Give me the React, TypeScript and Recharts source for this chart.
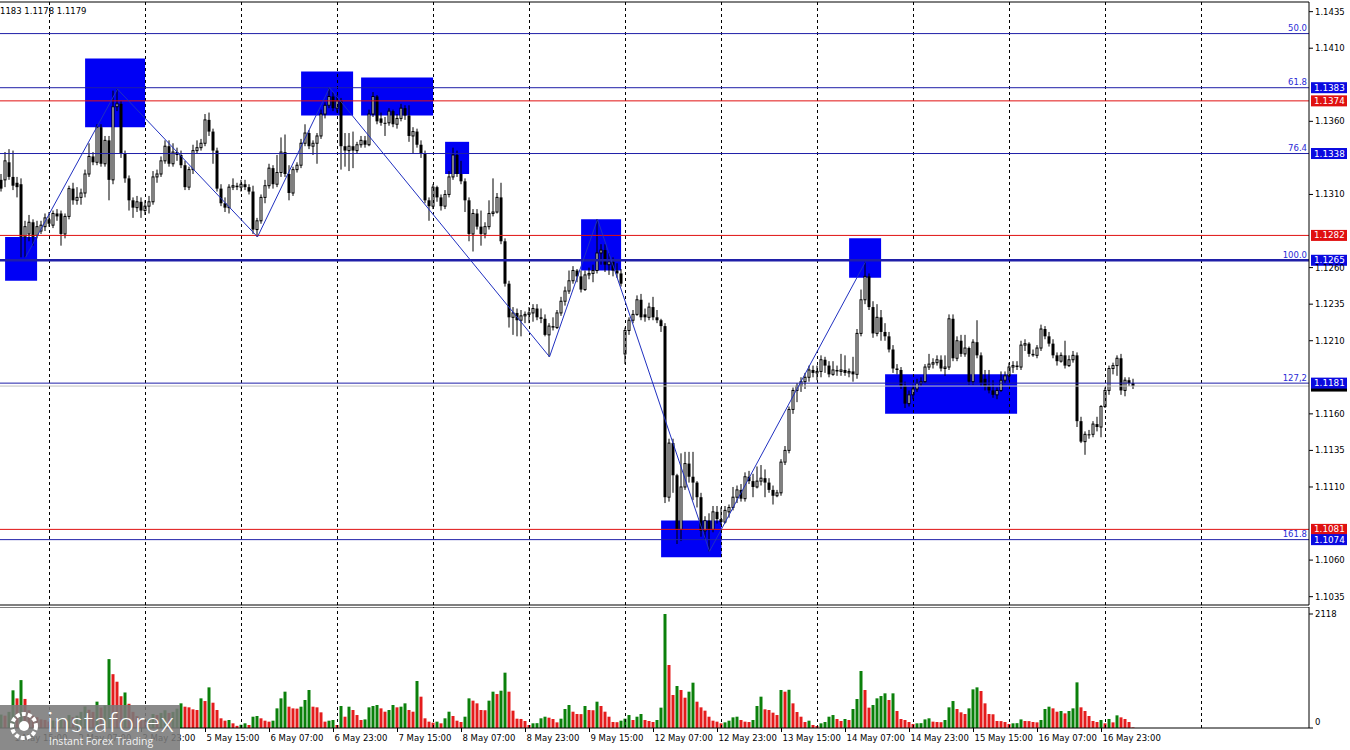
import React from 'react';
import { ComposedChart, Bar, Line, XAxis, YAxis, ReferenceLine, ReferenceArea, Cell } from 'recharts';

// ---------- DATA (EURUSD H1) ----------
const opens = [
  1.1320,1.1320,1.1332,1.1322,1.1318,1.1317,1.1281,1.1283,1.1291,1.1282,
  1.1285,1.1288,1.1293,1.1289,1.1297,1.1297,1.1283,1.1295,1.1314,1.1306,
  1.1308,1.1311,1.1324,1.1336,1.1332,1.1356,1.1331,1.1347,1.1320,1.1370,
  1.1372,1.1338,1.1321,1.1306,1.1301,1.1305,1.1299,1.1302,1.1305,1.1322,
  1.1324,1.1333,1.1343,1.1331,1.1339,1.1337,1.1330,1.1315,1.1327,1.1340,
  1.1342,1.1345,1.1361,1.1353,1.1340,1.1314,1.1304,1.1301,1.1315,1.1316,
  1.1315,1.1317,1.1315,1.1312,1.1286,1.1292,1.1308,1.1316,1.1328,1.1317,
  1.1325,1.1339,1.1324,1.1311,1.1327,1.1330,1.1345,1.1352,1.1343,1.1345,
  1.1350,1.1365,1.1371,1.1377,1.1369,1.1374,1.1343,1.1340,1.1343,1.1340,
  1.1344,1.1347,1.1344,1.1365,1.1377,1.1362,1.1359,1.1359,1.1367,1.1358,
  1.1362,1.1369,1.1364,1.1350,1.1353,1.1344,1.1338,1.1306,1.1302,1.1315,
  1.1308,1.1302,1.1310,1.1322,1.1337,1.1324,1.1319,1.1306,1.1283,1.1297,
  1.1288,1.1283,1.1288,1.1297,1.1298,1.1308,1.1278,1.1249,1.1226,1.1229,
  1.1224,1.1227,1.1228,1.1229,1.1232,1.1226,1.1225,1.1214,1.1220,1.1219,
  1.1229,1.1237,1.1244,1.1251,1.1258,1.1254,1.1245,1.1255,1.1256,1.1258,
  1.1270,1.1272,1.1262,1.1264,1.1258,1.1256,1.1201,1.1217,1.1224,1.1228,
  1.1238,1.1228,1.1226,1.1233,1.1226,1.1224,1.1220,1.1103,1.1140,1.1118,
  1.1081,1.1110,1.1126,1.1117,1.1113,1.1103,1.1080,1.1087,1.1081,1.1093,
  1.1088,1.1086,1.1093,1.1096,1.1103,1.1108,1.1102,1.1117,1.1114,1.1110,
  1.1114,1.1116,1.1113,1.1108,1.1104,1.1106,1.1127,1.1135,1.1163,1.1176,
  1.1179,1.1182,1.1185,1.1190,1.1188,1.1189,1.1197,1.1193,1.1187,1.1190,
  1.1189,1.1190,1.1188,1.1189,1.1187,1.1215,1.1238,1.1254,1.1233,1.1215,
  1.1226,1.1216,1.1213,1.1204,1.1191,1.1190,1.1179,1.1167,1.1173,1.1177,
  1.1181,1.1182,1.1192,1.1194,1.1195,1.1197,1.1191,1.1192,1.1225,1.1198,
  1.1210,1.1201,1.1205,1.1182,1.1209,1.1200,1.1184,1.1179,1.1176,1.1173,
  1.1176,1.1183,1.1186,1.1192,1.1193,1.1192,1.1207,1.1208,1.1201,1.1200,
  1.1205,1.1218,1.1213,1.1208,1.1200,1.1196,1.1200,1.1193,1.1197,1.1200,
  1.1155,1.1141,1.1146,1.1146,1.1153,1.1151,1.1165,1.1176,1.1191,1.1193,
  1.1198,1.1176,1.1183,1.1181,
];
const highs = [
  1.1324,1.1339,1.1341,1.1340,1.1322,1.1321,1.1292,1.1296,1.1293,1.1292,
  1.1292,1.1297,1.1298,1.1299,1.1300,1.1299,1.1297,1.1316,1.1318,1.1315,
  1.1314,1.1327,1.1345,1.1339,1.1358,1.1358,1.1350,1.1350,1.1381,1.1382,
  1.1374,1.1340,1.1323,1.1308,1.1309,1.1308,1.1306,1.1309,1.1326,1.1327,
  1.1336,1.1347,1.1347,1.1345,1.1342,1.1340,1.1333,1.1329,1.1344,1.1347,
  1.1348,1.1365,1.1366,1.1355,1.1342,1.1317,1.1308,1.1317,1.1321,1.1318,
  1.1320,1.1320,1.1317,1.1316,1.1294,1.1310,1.1320,1.1331,1.1330,1.1337,
  1.1349,1.1351,1.1330,1.1329,1.1332,1.1348,1.1358,1.1354,1.1347,1.1352,
  1.1368,1.1373,1.1383,1.1380,1.1378,1.1376,1.1352,1.1352,1.1353,1.1346,
  1.1350,1.1350,1.1368,1.1380,1.1378,1.1366,1.1363,1.1369,1.1368,1.1365,
  1.1372,1.1371,1.1371,1.1356,1.1355,1.1347,1.1340,1.1308,1.1317,1.1316,
  1.1310,1.1313,1.1326,1.1342,1.1340,1.1333,1.1321,1.1308,1.1300,1.1300,
  1.1299,1.1291,1.1306,1.1321,1.1311,1.1318,1.1280,1.1251,1.1233,1.1232,
  1.1231,1.1230,1.1233,1.1235,1.1235,1.1232,1.1228,1.1222,1.1226,1.1231,
  1.1240,1.1247,1.1258,1.1261,1.1259,1.1258,1.1258,1.1260,1.1262,1.1293,
  1.1276,1.1276,1.1270,1.1267,1.1263,1.1259,1.1219,1.1226,1.1231,1.1241,
  1.1242,1.1232,1.1236,1.1240,1.1231,1.1225,1.1222,1.1143,1.1143,1.1119,
  1.1133,1.1134,1.1134,1.1134,1.1114,1.1106,1.1090,1.1092,1.1097,1.1097,
  1.1096,1.1097,1.1098,1.1110,1.1111,1.1112,1.1120,1.1121,1.1119,1.1124,
  1.1125,1.1122,1.1116,1.1111,1.1108,1.1129,1.1138,1.1165,1.1178,1.1181,
  1.1185,1.1188,1.1193,1.1193,1.1193,1.1200,1.1199,1.1196,1.1196,1.1193,
  1.1201,1.1200,1.1191,1.1199,1.1218,1.1245,1.1264,1.1256,1.1237,1.1235,
  1.1231,1.1222,1.1216,1.1207,1.1194,1.1192,1.1182,1.1176,1.1180,1.1184,
  1.1185,1.1194,1.1201,1.1198,1.1200,1.1200,1.1200,1.1228,1.1228,1.1213,
  1.1214,1.1214,1.1206,1.1211,1.1224,1.1202,1.1190,1.1190,1.1183,1.1178,
  1.1189,1.1189,1.1195,1.1196,1.1196,1.1210,1.1211,1.1209,1.1204,1.1207,
  1.1221,1.1220,1.1216,1.1211,1.1202,1.1202,1.1210,1.1200,1.1203,1.1202,
  1.1158,1.1148,1.1149,1.1155,1.1158,1.1166,1.1178,1.1193,1.1195,1.1200,
  1.1201,1.1185,1.1185,1.1184,
];
const lows = [
  1.1312,1.1315,1.1320,1.1313,1.1308,1.1267,1.1267,1.1278,1.1275,1.1280,
  1.1283,1.1285,1.1288,1.1287,1.1292,1.1275,1.1280,1.1293,1.1303,1.1303,
  1.1303,1.1308,1.1322,1.1330,1.1330,1.1329,1.1329,1.1306,1.1317,1.1367,
  1.1335,1.1318,1.1299,1.1294,1.1298,1.1294,1.1296,1.1297,1.1303,1.1318,
  1.1322,1.1331,1.1329,1.1329,1.1333,1.1328,1.1313,1.1313,1.1324,1.1338,
  1.1340,1.1343,1.1350,1.1331,1.1312,1.1302,1.1298,1.1297,1.1313,1.1313,
  1.1312,1.1313,1.1310,1.1283,1.1281,1.1290,1.1304,1.1314,1.1314,1.1315,
  1.1322,1.1322,1.1306,1.1309,1.1325,1.1328,1.1343,1.1341,1.1337,1.1331,
  1.1348,1.1362,1.1369,1.1367,1.1366,1.1327,1.1329,1.1326,1.1328,1.1338,
  1.1342,1.1342,1.1343,1.1363,1.1358,1.1357,1.1350,1.1357,1.1356,1.1355,
  1.1360,1.1361,1.1346,1.1338,1.1342,1.1335,1.1304,1.1292,1.1300,1.1305,
  1.1299,1.1300,1.1308,1.1320,1.1322,1.1317,1.1298,1.1278,1.1271,1.1286,
  1.1275,1.1280,1.1286,1.1295,1.1297,1.1276,1.1247,1.1219,1.1214,1.1213,
  1.1213,1.1222,1.1222,1.1223,1.1224,1.1222,1.1213,1.1199,1.1217,1.1218,
  1.1227,1.1234,1.1242,1.1249,1.1250,1.1243,1.1244,1.1252,1.1250,1.1256,
  1.1262,1.1257,1.1255,1.1254,1.1253,1.1247,1.1194,1.1214,1.1222,1.1227,
  1.1224,1.1223,1.1224,1.1224,1.1222,1.1216,1.1099,1.1100,1.1106,1.1071,
  1.1073,1.1108,1.1113,1.1101,1.1096,1.1076,1.1074,1.1066,1.1079,1.1085,
  1.1084,1.1085,1.1089,1.1094,1.1099,1.1100,1.1100,1.1112,1.1103,1.1109,
  1.1111,1.1103,1.1106,1.1098,1.1103,1.1104,1.1125,1.1133,1.1160,1.1168,
  1.1175,1.1177,1.1182,1.1185,1.1183,1.1185,1.1188,1.1185,1.1186,1.1186,
  1.1186,1.1186,1.1185,1.1182,1.1184,1.1213,1.1235,1.1231,1.1212,1.1213,
  1.1210,1.1210,1.1202,1.1188,1.1187,1.1177,1.1164,1.1165,1.1170,1.1175,
  1.1179,1.1181,1.1190,1.1191,1.1193,1.1189,1.1186,1.1190,1.1196,1.1196,
  1.1199,1.1199,1.1180,1.1180,1.1198,1.1179,1.1176,1.1174,1.1171,1.1170,
  1.1175,1.1181,1.1183,1.1188,1.1190,1.1190,1.1203,1.1199,1.1199,1.1198,
  1.1203,1.1211,1.1206,1.1198,1.1193,1.1195,1.1191,1.1192,1.1195,1.1151,
  1.1140,1.1132,1.1143,1.1144,1.1148,1.1144,1.1164,1.1173,1.1187,1.1186,
  1.1173,1.1172,1.1179,1.1177,
];
const closes = [
  1.1314,1.1333,1.1322,1.1316,1.1315,1.1281,1.1288,1.1291,1.1281,1.1288,
  1.1289,1.1294,1.1290,1.1297,1.1295,1.1283,1.1295,1.1314,1.1306,1.1308,
  1.1311,1.1324,1.1336,1.1332,1.1356,1.1331,1.1347,1.1320,1.1370,1.1372,
  1.1338,1.1321,1.1306,1.1301,1.1305,1.1299,1.1302,1.1305,1.1322,1.1324,
  1.1333,1.1343,1.1331,1.1339,1.1337,1.1330,1.1315,1.1327,1.1340,1.1342,
  1.1345,1.1361,1.1353,1.1340,1.1314,1.1304,1.1301,1.1315,1.1316,1.1315,
  1.1317,1.1315,1.1312,1.1286,1.1292,1.1308,1.1316,1.1328,1.1317,1.1325,
  1.1339,1.1324,1.1311,1.1327,1.1330,1.1345,1.1352,1.1343,1.1345,1.1350,
  1.1365,1.1371,1.1377,1.1369,1.1374,1.1343,1.1340,1.1343,1.1340,1.1344,
  1.1347,1.1344,1.1365,1.1377,1.1360,1.1359,1.1359,1.1367,1.1358,1.1362,
  1.1369,1.1364,1.1350,1.1353,1.1344,1.1338,1.1306,1.1302,1.1315,1.1308,
  1.1302,1.1310,1.1322,1.1337,1.1324,1.1319,1.1306,1.1283,1.1297,1.1288,
  1.1283,1.1288,1.1297,1.1298,1.1308,1.1278,1.1249,1.1226,1.1229,1.1224,
  1.1227,1.1228,1.1229,1.1232,1.1226,1.1225,1.1214,1.1220,1.1219,1.1229,
  1.1237,1.1244,1.1251,1.1258,1.1254,1.1245,1.1255,1.1256,1.1258,1.1270,
  1.1272,1.1262,1.1264,1.1258,1.1256,1.1249,1.1217,1.1224,1.1228,1.1238,
  1.1226,1.1226,1.1233,1.1226,1.1224,1.1220,1.1103,1.1140,1.1118,1.1081,
  1.1110,1.1126,1.1117,1.1113,1.1103,1.1080,1.1087,1.1081,1.1093,1.1088,
  1.1086,1.1094,1.1096,1.1103,1.1108,1.1102,1.1117,1.1114,1.1110,1.1114,
  1.1116,1.1113,1.1108,1.1104,1.1106,1.1127,1.1135,1.1163,1.1176,1.1179,
  1.1182,1.1185,1.1190,1.1188,1.1189,1.1197,1.1193,1.1187,1.1190,1.1189,
  1.1190,1.1188,1.1189,1.1187,1.1215,1.1238,1.1254,1.1233,1.1215,1.1226,
  1.1216,1.1213,1.1204,1.1191,1.1190,1.1179,1.1167,1.1173,1.1177,1.1181,
  1.1182,1.1192,1.1194,1.1195,1.1197,1.1191,1.1192,1.1225,1.1198,1.1210,
  1.1201,1.1205,1.1182,1.1209,1.1200,1.1181,1.1179,1.1176,1.1173,1.1176,
  1.1183,1.1186,1.1192,1.1193,1.1192,1.1207,1.1208,1.1201,1.1200,1.1205,
  1.1218,1.1213,1.1208,1.1200,1.1196,1.1200,1.1193,1.1197,1.1200,1.1155,
  1.1141,1.1146,1.1146,1.1153,1.1151,1.1165,1.1176,1.1191,1.1193,1.1198,
  1.1176,1.1183,1.1181,1.1179,
];
const volumes = [
  250,230,300,700,550,890,540,330,230,200,
  160,150,120,140,130,180,160,240,200,230,
  300,400,340,300,490,380,420,1280,1000,860,
  590,660,450,300,220,180,150,170,260,240,
  280,330,280,300,360,458,396,384,347,334,
  551,501,755,470,334,180,136,149,87,40,
  60,87,56,210,223,180,136,118,136,365,
  551,675,396,365,360,396,520,706,396,384,
  291,118,136,149,56,409,210,396,334,241,
  149,160,384,409,427,365,303,334,427,384,
  396,458,334,303,873,582,180,118,99,118,
  87,180,303,223,136,111,210,551,508,458,
  334,330,508,675,631,693,1028,675,322,173,
  168,130,56,87,90,180,210,192,167,105,
  173,353,427,303,260,258,409,334,330,489,
  409,303,210,111,108,136,173,241,149,210,
  260,149,130,111,149,378,2118,1170,613,780,
  706,563,675,842,489,384,322,210,136,118,
  87,105,136,198,210,149,118,111,149,409,
  582,347,334,285,241,706,675,710,458,297,
  210,111,136,56,37,87,111,210,241,167,
  130,167,149,353,539,1059,706,378,427,551,
  594,644,520,644,316,167,149,111,74,87,
  90,160,180,118,111,108,149,384,501,353,
  291,260,365,718,755,687,458,260,255,130,
  128,111,74,87,90,160,130,128,111,105,
  149,353,396,365,303,316,272,316,365,848,
  384,316,223,130,111,149,87,167,105,235,
  198,167,111,10,
];

// zigzag pivots (bar index, price)
const zigzagBars = [6, 29, 64, 82, 137, 149, 177, 216];
const zigzagPrices = [1.1267, 1.1382, 1.1281, 1.1383, 1.1199, 1.1293, 1.1066, 1.1264];

// highlighted zones (bar index range, price range)
const zoneFrom = [0.9, 20.9, 74.9, 89.9, 110.9, 144.9, 211.9, 164.9, 220.9];
const zoneTo = [8.9, 35.9, 87.9, 107.9, 116.9, 154.9, 219.9, 180.0, 253.9];
const zoneLow = [1.1251, 1.1356, 1.1364, 1.1364, 1.1324, 1.1258, 1.1253, 1.1062, 1.1160];
const zoneHigh = [1.1281, 1.1403, 1.1394, 1.1390, 1.1346, 1.1293, 1.1280, 1.1087, 1.1187];

// horizontal levels
const levelPrices = [1.1420, 1.1383, 1.1374, 1.1338, 1.1282, 1.1265, 1.1179, 1.1181, 1.1081, 1.1074];
const levelNames = ['50.0', '61.8', '', '76.4', '', '100.0', '', '127,2', '', '161.8'];
const levelKinds = ['fib', 'fib', 'res', 'fib', 'res', 'fib', 'cur', 'fib', 'res', 'fib'];
const levelTagged = [false, true, true, true, true, true, true, true, true, true];

// axis ticks (those hidden under the price tags are left out)
const priceTicks = [1.1035, 1.1060, 1.1110, 1.1135, 1.1160, 1.1210, 1.1235, 1.1260,
  1.1310, 1.1360, 1.1410, 1.1435];
const volumeTicks = [0, 2118];
const gridBars = [12, 36, 60, 84, 108, 132, 156, 180, 204, 228, 252, 276, 300];
const timeLabelBars = [3, 19, 35, 51, 67, 83, 99, 115, 131, 147, 163, 179, 195, 211, 227, 243, 259, 275];
const timeLabels = ['1 May 15:00', '2 May 07:00', '2 May 23:00', '5 May 15:00', '6 May 07:00', '6 May 23:00',
  '7 May 15:00', '8 May 07:00', '8 May 23:00', '9 May 15:00', '12 May 07:00', '12 May 23:00',
  '13 May 15:00', '14 May 07:00', '14 May 23:00', '15 May 15:00', '16 May 07:00', '16 May 23:00'];

// ---------- STYLE ----------
const FONT = 'DejaVu Sans';
const FS = 8.5;
const X_DOMAIN: [number, number] = [-0.375, 326.875];
const P_DOMAIN: [number, number] = [1.10293, 1.14416];
const V_DOMAIN: [number, number] = [0, 2248];
const FIB_BLUE = '#1f1fa8';
const TAG_BLUE = '#0a0ae0';
const RED = '#e01010';
const ZONE = '#0000f5';
const GREEN_V = '#0b800b';
const RED_V = '#e41c1c';

const candles = opens.map((o, i) => ({
  i, o, h: highs[i], l: lows[i], c: closes[i], range: [lows[i], highs[i]], v: volumes[i],
}));
const zigzag = zigzagBars.map((b, k) => ({ i: b, z: zigzagPrices[k] }));

function CandleShape(props: any) {
  const { x, y, width, height, payload } = props;
  if (!payload || x == null) return null;
  const { o, h, l, c } = payload;
  const top = Math.min(y, y + height);
  const span = Math.abs(height);
  const k = h > l ? span / (h - l) : 0;
  const yo = top + (h - o) * k;
  const yc = top + (h - c) * k;
  const cx = x + width / 2;
  const bt = Math.min(yo, yc);
  const bh = Math.max(Math.abs(yo - yc), 1);
  const up = c > o;
  return (
    <g>
      <line x1={cx} x2={cx} y1={top} y2={top + Math.max(span, 1)} stroke="#000" strokeWidth={1} />
      {up ? (
        <rect x={x + 0.5} y={bt} width={width - 1} height={bh} fill="#fff" stroke="#000" strokeWidth={1} />
      ) : (
        <rect x={x} y={bt} width={width} height={bh} fill="#000" />
      )}
    </g>
  );
}

function LevelLabel(props: any) {
  const { viewBox, name, tag, tagColor, showBox } = props;
  if (!viewBox) return null;
  const { x, y, width } = viewBox;
  const right = x + width;
  return (
    <g>
      {name ? (
        <text x={right - 2} y={y - 2.5} textAnchor="end" fontSize={FS} fill="#2a2ad6" fontFamily={FONT}>{name}</text>
      ) : null}
      {showBox ? (
        <g>
          <rect x={right + 2} y={y - 5.5} width={36} height={11} fill={tagColor} />
          {tag ? <text x={right + 5} y={y + 3} fontSize={FS + 0.3} fill="#fff" fontFamily={FONT}>{tag}</text> : null}
        </g>
      ) : null}
    </g>
  );
}

function PriceTick(props: any) {
  const { x, y, payload } = props;
  return (
    <text x={x} y={y} dy="0.35em" fontSize={FS} fill="#000" fontFamily={FONT}>{payload.value.toFixed(4)}</text>
  );
}

function VolTick(props: any) {
  const { x, y, payload } = props;
  const dy = payload.value === 0 ? -6 : 0;
  return (
    <text x={x} y={y + dy} dy="0.35em" fontSize={FS} fill="#000" fontFamily={FONT}>{String(payload.value)}</text>
  );
}

function TimeTick(props: any) {
  const { x, y, payload } = props;
  const idx = timeLabelBars.indexOf(payload.value);
  return (
    <g>
      <line x1={x} x2={x} y1={y} y2={y + 4} stroke="#000" />
      <text x={x + 1} y={y + 13} fontSize={FS} fill="#000" fontFamily={FONT}>{idx >= 0 ? timeLabels[idx] : ''}</text>
    </g>
  );
}

export default function App() {
  const lineStyle = (kind: string, k: number) => {
    if (kind === 'res') return { stroke: RED, width: 1 };
    if (kind === 'cur') return { stroke: '#c0c0c0', width: 1 };
    return { stroke: FIB_BLUE, width: levelNames[k] === '100.0' ? 2.5 : 1 };
  };
  const tagColorOf = (kind: string) => (kind === 'res' ? RED : kind === 'cur' ? '#000' : TAG_BLUE);

  return (
    <div style={{ position: 'absolute', left: 0, top: 0, width: 1350, height: 750, background: '#fff', overflow: 'hidden', fontFamily: FONT }}>
      <div style={{ position: 'absolute', left: 0, top: 0 }}>
        <ComposedChart width={1350} height={607} data={candles} margin={{ top: 2, right: 0, bottom: 2, left: 0 }}>
          <XAxis type="number" dataKey="i" domain={X_DOMAIN} allowDataOverflow hide />
          <YAxis orientation="right" domain={P_DOMAIN} ticks={priceTicks} interval={0} allowDataOverflow width={41}
            tickSize={4} tickMargin={2} axisLine={{ stroke: '#000' }} tickLine={{ stroke: '#000' }} tick={<PriceTick />} />
          {zoneFrom.map((x1, k) => (
            <ReferenceArea key={'z' + k} x1={x1} x2={zoneTo[k]} y1={zoneLow[k]} y2={zoneHigh[k]} fill={ZONE} fillOpacity={1} stroke="none" />
          ))}
          {gridBars.map((g) => (
            <ReferenceLine key={'g' + g} x={g} stroke="#000" strokeDasharray="3 3" />
          ))}
          <ReferenceLine y={P_DOMAIN[1]} stroke="#000" />
          <ReferenceLine y={P_DOMAIN[0]} stroke="#000" />
          {levelPrices.map((p, k) => {
            const st = lineStyle(levelKinds[k], k);
            const kind = levelKinds[k];
            return (
              <ReferenceLine key={'l' + k} y={p} stroke={st.stroke} strokeWidth={st.width}
                label={<LevelLabel name={levelNames[k]} showBox={levelTagged[k]} tag={levelTagged[k] && kind !== 'cur' ? p.toFixed(4) : ''} tagColor={tagColorOf(kind)} />} />
            );
          })}
          <Bar dataKey="range" barSize={3} isAnimationActive={false} shape={(p: any) => <CandleShape {...p} />} />
          <Line data={zigzag} dataKey="z" type="linear" stroke="#2030c0" strokeWidth={1} dot={false} isAnimationActive={false} />
        </ComposedChart>
      </div>
      <div style={{ position: 'absolute', left: 0, top: 607 }}>
        <ComposedChart width={1350} height={143} data={candles} margin={{ top: 0, right: 0, bottom: 0, left: 0 }}>
          <XAxis type="number" dataKey="i" domain={X_DOMAIN} allowDataOverflow ticks={timeLabelBars} interval={0}
            height={22} tickSize={0} tickMargin={0} axisLine={{ stroke: '#000' }} tickLine={false} tick={<TimeTick />} />
          <YAxis orientation="right" domain={V_DOMAIN} ticks={volumeTicks} interval={0} allowDataOverflow width={41}
            tickSize={4} tickMargin={2} axisLine={{ stroke: '#000' }} tickLine={{ stroke: '#000' }} tick={<VolTick />} />
          {gridBars.map((g) => (
            <ReferenceLine key={'vg' + g} x={g} stroke="#000" strokeDasharray="3 3" />
          ))}
          <ReferenceLine y={V_DOMAIN[1]} stroke="#000" />
          <Bar dataKey="v" barSize={3} isAnimationActive={false}>
            {candles.map((d, i) => (
              <Cell key={'c' + i} fill={i === 0 || d.v > volumes[i - 1] ? GREEN_V : RED_V} />
            ))}
          </Bar>
        </ComposedChart>
      </div>
      <svg width={1350} height={750} style={{ position: 'absolute', left: 0, top: 0, pointerEvents: 'none' }}>
        <text x={0} y={14} fontSize={FS} fill="#000" fontFamily={FONT}>1183 1.1178 1.1179</text>
        <g>
          <rect x={0} y={705} width={180} height={45} fill="#7a7a7a" fillOpacity={0.88} />
          <circle cx={24} cy={726} r={12} fill="none" stroke="#fff" strokeWidth={4} strokeDasharray="4 2" />
          <circle cx={24} cy={726} r={5} fill="#fff" />
          <text x={47} y={732} fontSize={28} fill="#fff" fontFamily="Lato" fontWeight={300} letterSpacing={1}>instaforex</text>
          <text x={49} y={745} fontSize={10.5} fill="#f2f2f2" fontFamily="Open Sans">Instant Forex Trading</text>
        </g>
      </svg>
    </div>
  );
}
